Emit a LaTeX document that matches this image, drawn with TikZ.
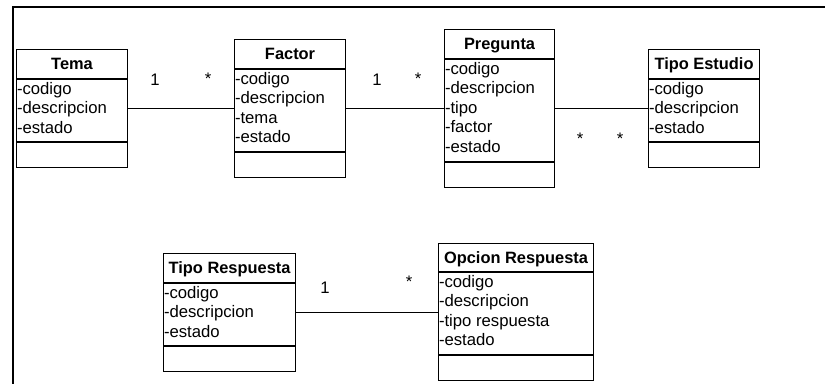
\documentclass[tikz,border=0pt]{standalone}
\usepackage{fontspec}
\setmainfont{Liberation Sans}
\usetikzlibrary{calc}
\tikzset{
  x=1pt, y=1pt,
  clsbox/.style={draw=black, line width=1.1pt, inner sep=0pt, anchor=north west, fill=white},
  clsline/.style={draw=black, line width=1.1pt},
  clstitle/.style={inner sep=0pt, anchor=base, font=\fontsize{16.4}{19.5}\selectfont\bfseries},
  clsattr/.style={inner sep=0pt, anchor=base west, font=\fontsize{16.7}{19.5}\selectfont},
  mult/.style={inner sep=0pt, anchor=base, font=\fontsize{16.7}{19.5}\selectfont},
  assoc/.style={draw=black, line width=1pt},
  frame/.style={draw=black, line width=2.2pt}
}
% #1 name, #2 x left, #3 y top, #4 width, #5 header h, #6 attr h, #7 total h, #8 title, #9 attrs
\newcommand\umlcls[9]{%
  \node[clsbox, minimum width=#4, minimum height=#7] (#1) at (#2,-#3) {};
  \draw[clsline] ($(#1.north west)+(0,-#5)$) -- ($(#1.north east)+(0,-#5)$);
  \draw[clsline] ($(#1.north west)+(0,{-#5-#6})$) -- ($(#1.north east)+(0,{-#5-#6})$);
  \node[clstitle] (#1-title) at ($(#1.north)+(0,{-#5/2-5.8})$) {#8};
  \foreach \a [count=\i] in {#9}{%
    \node[clsattr] (#1-a\i) at ($(#1.north west)+(0.8,{-#5-15.3-19.5*(\i-1)})$) {\a};
  }%
}
\begin{document}
\begin{tikzpicture}
\useasboundingbox (0,0) rectangle (826,-383);
\coordinate (fbl) at (13,-384);
\coordinate (ftl) at (13,-7);
\coordinate (ftr) at (825,-7);
\draw[frame] (fbl) -- (ftl) -- (ftr);

\umlcls{tema}{16}{49}{111}{30}{63}{118}{Tema}{-codigo,-descripcion,-estado}
\umlcls{factor}{234}{39}{111}{30}{83}{138}{Factor}{-codigo,-descripcion,-tema,-estado}
\umlcls{pregunta}{444}{29}{110}{30}{103}{158}{Pregunta}{-codigo,-descripcion,-tipo,-factor,-estado}
\umlcls{estudio}{648}{49}{111}{30}{63}{118}{Tipo Estudio}{-codigo,-descripcion,-estado}
\umlcls{tiporesp}{163}{253}{132}{30}{63}{118}{Tipo Respuesta}{-codigo,-descripcion,-estado}
\umlcls{opcion}{438}{243}{155}{29}{83}{137}{Opcion Respuesta}{-codigo,-descripcion,-tipo respuesta,-estado}

\draw[assoc] (tema.east) -- (factor.west);
\draw[assoc] (factor.east) -- (pregunta.west);
\draw[assoc] (pregunta.east) -- (estudio.west);
\draw[assoc] (tiporesp.east) -- (opcion.west |- tiporesp.east);

\node[mult] (m1) at (155,-85) {1};
\node[mult] (m2) at (208,-84) {*};
\node[mult] (m3) at (377,-85) {1};
\node[mult] (m4) at (418,-84) {*};
\node[mult] (m5) at (580,-144) {*};
\node[mult] (m6) at (620,-144) {*};
\node[mult] (m7) at (325,-293) {1};
\node[mult] (m8) at (409,-287) {*};
\end{tikzpicture}
\end{document}
